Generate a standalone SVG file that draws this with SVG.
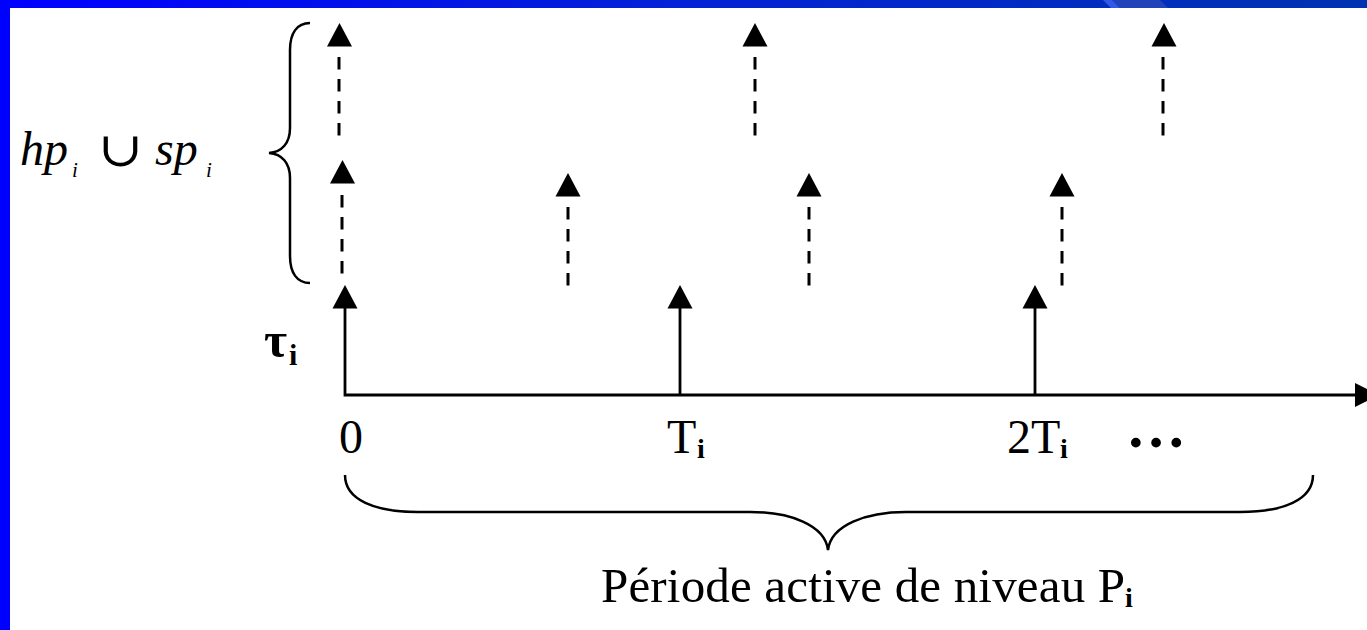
<svg xmlns="http://www.w3.org/2000/svg" xmlns:xlink="http://www.w3.org/1999/xlink" width="1367" height="630" viewBox="0 0 1367 630">
<defs>
<linearGradient id="topbar" x1="0" y1="0" x2="1" y2="0">
<stop offset="0" stop-color="#0000FF"/>
<stop offset="0.5" stop-color="#0422D6"/>
<stop offset="1" stop-color="#0033B0"/>
</linearGradient>
<path id="ah" d="M0,0 L12.5,23.5 L-12.5,23.5 Z" fill="#000"/>
<style>
.solid{stroke:#000;stroke-width:2.8;fill:none}
.dash{stroke:#000;stroke-width:3;fill:none;stroke-dasharray:12.5 9.5}
.brace{stroke:#000;stroke-width:2.5;fill:none}
.lbl{font-family:"Liberation Serif","Times New Roman",serif;font-size:48px;fill:#000}
.sub{font-family:"Liberation Serif","Times New Roman",serif;font-size:28px;font-weight:bold;fill:#000}
.it{font-family:"Liberation Serif","Times New Roman",serif;font-style:italic;font-size:48px;fill:#000}
.itsub{font-family:"Liberation Serif","Times New Roman",serif;font-style:italic;font-size:21px;fill:#000}
</style>
</defs>
<rect x="0" y="0" width="1367" height="630" fill="#FFFFFF"/>
<g id="frame">
<rect x="0" y="0" width="10" height="630" fill="#0000FF"/>
<rect x="0" y="0" width="1367" height="8" fill="url(#topbar)"/>
<polygon points="1103,0 1112,0 1120,8 1111,8" fill="#3F64F0" opacity="0.8"/>
<polygon points="1112,0 1160,0 1168,8 1120,8" fill="#2F4CB8" opacity="0.7"/>
</g>
<g id="connectors">
<g id="axis">
<polyline class="solid" points="345,308 345,395 1356,395"/>
<polygon points="1355,383 1379,395 1355,407" fill="#000"/>
</g>
<g id="tau-arrows">
<line class="solid" x1="680" y1="395" x2="680" y2="306"/>
<line class="solid" x1="1035" y1="395" x2="1035" y2="306"/>
<use xlink:href="#ah" x="345" y="285"/>
<use xlink:href="#ah" x="680" y="285"/>
<use xlink:href="#ah" x="1035" y="285"/>
</g>
<g id="hp-top-row">
<line class="dash" x1="339" y1="57" x2="339" y2="137"/>
<line class="dash" x1="755" y1="57" x2="755" y2="137"/>
<line class="dash" x1="1163" y1="57" x2="1163" y2="137"/>
<use xlink:href="#ah" x="339.5" y="23"/>
<use xlink:href="#ah" x="755" y="23"/>
<use xlink:href="#ah" x="1164" y="23"/>
</g>
<g id="hp-middle-row">
<line class="dash" x1="342" y1="195" x2="342" y2="274"/>
<line class="dash" x1="568" y1="207" x2="568" y2="286"/>
<line class="dash" x1="809" y1="207" x2="809" y2="286"/>
<line class="dash" x1="1062" y1="207" x2="1062" y2="286"/>
<use xlink:href="#ah" x="342.5" y="160"/>
<use xlink:href="#ah" x="568" y="173"/>
<use xlink:href="#ah" x="809" y="173"/>
<use xlink:href="#ah" x="1062" y="173"/>
</g>
</g>
<g id="brace-left">
<path class="brace" d="M310,23 C297,23 290,33 290,50 L290,128 C290,143 282,152 269,153 C282,154 290,163 290,178 L290,256 C290,273 297,283 310,283"/>
</g>
<g id="brace-bottom">
<path class="brace" d="M345,475 C345,500 375,512 418,512 L750,512 C790,512 825,525 828,550 C831,525 866,512 906,512 L1240,512 C1283,512 1313,500 1313,475"/>
</g>
<g id="label-hp">
<text class="it" x="20" y="165">hp</text>
<text class="itsub" x="72" y="177">i</text>
<text transform="translate(98,166) scale(1.12,1)" x="0" y="0" style="font-family:'DejaVu Sans','DejaVu Serif',sans-serif;font-size:48px;font-weight:200;fill:#000">∪</text>
<text class="it" x="155" y="165">sp</text>
<text class="itsub" x="206" y="177">i</text>
</g>
<g id="label-tau">
<text x="264" y="357" style="font-family:'Liberation Serif',serif;font-size:50px;font-weight:bold;fill:#000">τ</text>
<text class="sub" x="289" y="365" style="font-size:30px">i</text>
</g>
<g id="label-0"><text class="lbl" x="339" y="453">0</text></g>
<g id="label-Ti"><text class="lbl" x="667" y="453">T</text><text class="sub" x="697" y="458">i</text></g>
<g id="label-2Ti"><text class="lbl" x="1007" y="453">2T</text><text class="sub" x="1060" y="458">i</text></g>
<g id="label-dots"><text x="1126" y="447" style="font-family:'Liberation Serif',serif;font-size:60px;font-weight:bold;fill:#000">…</text></g>
<g id="label-periode">
<text class="lbl" x="601" y="602" style="font-size:49px" textLength="524" lengthAdjust="spacing">Période active de niveau P</text>
<text class="sub" x="1125" y="607">i</text>
</g>
</svg>
